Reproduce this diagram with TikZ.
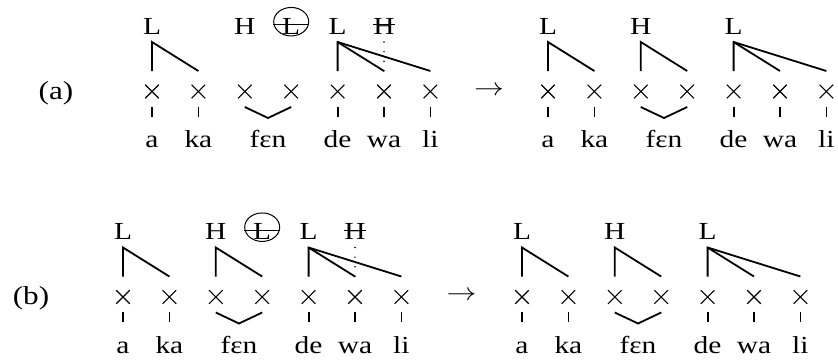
\documentclass[tikz,border=0pt]{standalone}
\usepackage{fontspec}
\setmainfont[FakeStretch=1.2]{Liberation Serif}
\usetikzlibrary{shapes.misc,shapes.geometric,calc}
\tikzset{
  xmark/.style={cross out, draw, line width=1.1pt, minimum width=12.5pt, minimum height=12.5pt, inner sep=0pt},
  dashmark/.style={line width=1.8pt},
  assoc/.style={line width=1.8pt},
  txt/.style={font=\fontsize{24.5}{28}\selectfont, inner sep=0pt, anchor=base},
  lab/.style={font=\fontsize{26}{30}\selectfont, inner sep=0pt, anchor=base},
  strike/.style={line width=1pt},
  ring/.style={ellipse, draw, line width=1pt, minimum width=35pt, minimum height=28.5pt, inner sep=0pt},
  dotline/.style={line width=1.6pt, dash pattern=on 0pt off 9.6pt, line cap=round}
}
\newcommand\skel[3]{%
  \foreach \i in {1,...,7}{%
    \pgfmathsetmacro\xx{#2+46.4*(\i-1)}%
    \node[xmark] (#1x\i) at (\xx,#3) {};
    \coordinate (#1b\i) at (\xx,#3-20.5);
  }
  \foreach \i in {1,2,5,6,7}{%
    \draw[dashmark] ($(#1x\i)+(0,15)$) -- ($(#1x\i)+(0,25)$);
  }
  \node[txt] (#1s1) at ($(#1x1)+(0,56)$) {a};
  \node[txt] (#1s2) at ($(#1x2)+(0,56)$) {ka};
  \node[txt] (#1s3) at ($(#1x3)!0.5!(#1x4)+(0,56)$) {fɛn};
  \node[txt] (#1s5) at ($(#1x5)+(0,56)$) {de};
  \node[txt] (#1s6) at ($(#1x6)+(0,56)$) {wa};
  \node[txt] (#1s7) at ($(#1x7)+(0,56)$) {li};
  \draw[assoc] ($(#1x3)+(0,15.5)$) -- ($(#1x3)!0.5!(#1x4)+(0,26.5)$) -- ($(#1x4)+(0,15.5)$);
}
\newcommand\tone[3]{% prefix, index, letter
  \node[txt] (#1T#2) at ($(#1x#2)+(0,-57.2)$) {#3};
  \coordinate (#1t#2) at ($(#1x#2)+(0,-49.5)$);
}
\begin{document}
\begin{tikzpicture}[x=1pt,y=-1pt]
\fill[white] (0,0) rectangle (838,360);
\useasboundingbox (0,0) rectangle (838,360);

% ---------- (a) left
\node[lab] (labA) at (56,99) {(a)};
\skel{A}{152}{91.5}
\tone{A}{1}{L}
\tone{A}{3}{H}
\tone{A}{4}{L}
\tone{A}{5}{L}
\tone{A}{6}{H}
\node[ring] (AR4) at ($(Ax4)+(0,-69.8)$) {};
\draw[strike] ($(AR4.west)+(0,3)$) -- ($(AR4.east)+(0,3)$);
\draw[strike] ($(AT6.base)+(-11,-9.8)$) -- ($(AT6.base)+(11,-9.8)$);
\draw[assoc] (Ab2) -- (At1) -- (Ab1);
\draw[assoc] (Ab7) -- (At5) -- (Ab5);
\draw[assoc] (At5) -- (Ab6);
\draw[dotline] (At6) -- (Ab6);

\node (arrA) at (489,91) {\fontsize{24}{24}\selectfont\scalebox{1.2}[1]{$\rightarrow$}};

% ---------- (a) right
\skel{B}{548}{91.5}
\tone{B}{1}{L}
\tone{B}{3}{H}
\tone{B}{5}{L}
\draw[assoc] (Bb2) -- (Bt1) -- (Bb1);
\draw[assoc] (Bb4) -- (Bt3) -- (Bb3);
\draw[assoc] (Bb7) -- (Bt5) -- (Bb5);
\draw[assoc] (Bt5) -- (Bb6);

% ---------- (b) left
\node[lab] (labB) at (31,304.5) {(b)};
\skel{C}{123}{297}
\tone{C}{1}{L}
\tone{C}{3}{H}
\tone{C}{4}{L}
\tone{C}{5}{L}
\tone{C}{6}{H}
\node[ring] (CR4) at ($(Cx4)+(0,-69.8)$) {};
\draw[strike] ($(CR4.west)+(0,3)$) -- ($(CR4.east)+(0,3)$);
\draw[strike] ($(CT6.base)+(-11,-9.8)$) -- ($(CT6.base)+(11,-9.8)$);
\draw[assoc] (Cb2) -- (Ct1) -- (Cb1);
\draw[assoc] (Cb4) -- (Ct3) -- (Cb3);
\draw[assoc] (Cb7) -- (Ct5) -- (Cb5);
\draw[assoc] (Ct5) -- (Cb6);
\draw[dotline] (Ct6) -- (Cb6);

\node (arrB) at (461.5,296) {\fontsize{24}{24}\selectfont\scalebox{1.2}[1]{$\rightarrow$}};

% ---------- (b) right
\skel{D}{522}{297}
\tone{D}{1}{L}
\tone{D}{3}{H}
\tone{D}{5}{L}
\draw[assoc] (Db2) -- (Dt1) -- (Db1);
\draw[assoc] (Db4) -- (Dt3) -- (Db3);
\draw[assoc] (Db7) -- (Dt5) -- (Db5);
\draw[assoc] (Dt5) -- (Db6);
\end{tikzpicture}
\end{document}
